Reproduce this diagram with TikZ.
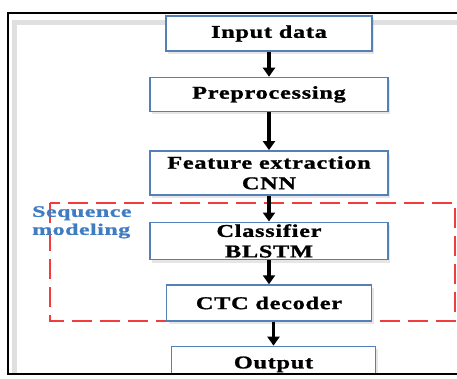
\documentclass[tikz,border=0pt]{standalone}
\usepackage{fontspec}
\setmainfont{Liberation Serif}
\newfontfamily\boxfont{Liberation Serif}[FakeStretch=1.35,LetterSpace=4,FakeBold=1.2]
\newfontfamily\seqfont{Liberation Serif}[FakeStretch=1.5,LetterSpace=3,FakeBold=1.2]
\usetikzlibrary{positioning,shadows,arrows.meta}
\definecolor{boxblue}{HTML}{5480B8}
\definecolor{seqblue}{HTML}{3F7CC2}
\definecolor{seqred}{HTML}{F03C3C}
\tikzset{
  stage/.style={draw=boxblue, line width=1.4pt, fill=white, inner sep=2pt,
    align=center, font=\boxfont\bfseries\fontsize{18}{20.5}\selectfont,
    drop shadow={opacity=0.2, shadow xshift=2pt, shadow yshift=-3pt}},
  arr/.style={line width=3.2pt, -{Triangle[width=12pt,length=9pt]}}
}
\begin{document}
\begin{tikzpicture}[x=1pt, y=1pt]
  \useasboundingbox (0,0) rectangle (457,-378);
  % frame
  \draw[black!12, line width=5pt] (14,-374) -- (14,-22) -- (470,-22);
  % sequence modeling block
  \draw[seqred, line width=1.5pt, dash pattern=on 20pt off 8pt] (50,-203) rectangle (455,-321);
  \node[anchor=north west, align=left, text=seqblue, inner sep=0pt,
    font=\seqfont\bfseries\fontsize{16}{18}\selectfont] (seq) at (32,-206) {Sequence\\modeling};
  % stages
  \node[stage, minimum width=206pt, minimum height=35pt] (input) at (269,-33.5) {Input data};
  \node[stage, minimum width=238pt, minimum height=34pt, below=25pt of input] (prep) {Preprocessing};
  \node[stage, minimum width=238pt, minimum height=44pt, below=38pt of prep] (feat) {Feature extraction\\CNN};
  \node[stage, minimum width=238pt, minimum height=37pt, below=26pt of feat] (clf) {Classifier\\BLSTM};
  \node[stage, minimum width=205pt, minimum height=36pt, below=24pt of clf] (ctc) {CTC decoder};
  \node[stage, minimum width=204pt, minimum height=36pt, below=24pt of ctc, xshift=4.5pt] (out) {Output};
  \foreach \a/\b in {input/prep, prep/feat, feat/clf, clf/ctc}{
      \draw[arr] (\a.south) -- (\b.north);
  }
  \draw[arr] (out.north |- ctc.south) -- (out.north);
  \fill[white] (-5,-374) rectangle (470,-400);
  \draw[line width=1.5pt] (470,-13) -- (8,-13) -- (8,-374) -- (470,-374);
\end{tikzpicture}
\end{document}
